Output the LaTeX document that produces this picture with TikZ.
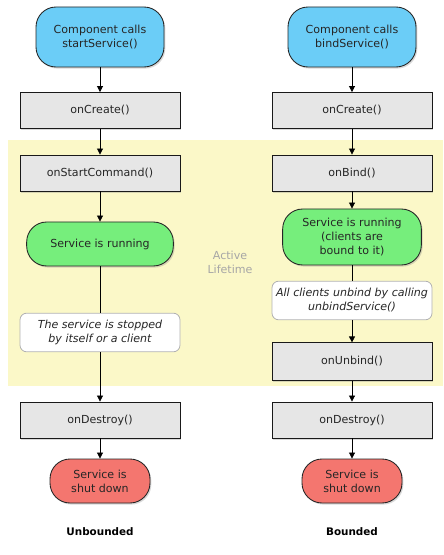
\documentclass[tikz,border=0pt]{standalone}
\usepackage{fontspec}
\setmainfont{DejaVu Sans}[ItalicFont={DejaVu Sans Oblique},BoldFont={DejaVu Sans Bold}]
\usetikzlibrary{arrows.meta,shadows}
\definecolor{callblue}{HTML}{6BCDF7}
\definecolor{rungreen}{HTML}{76EE7C}
\definecolor{downred}{HTML}{F4766F}
\definecolor{hookgray}{HTML}{E6E6E6}
\definecolor{lifeyellow}{HTML}{FBF8C8}
\tikzset{
  every node/.style={font=\fontsize{8.3}{10.5}\selectfont, text=black!85},
  softshadow/.style={drop shadow={opacity=0.3, shadow xshift=1pt, shadow yshift=-1.2pt}},
  pill/.style={draw=black!85, line width=0.65pt, rounded corners=15pt, align=center, inner sep=0pt, softshadow},
  hook/.style={draw=black!90, line width=0.65pt, fill=hookgray, minimum width=120pt, minimum height=27pt, inner sep=0pt, softshadow},
  note/.style={draw=black!30, line width=0.6pt, fill=white, rounded corners=5pt, minimum width=120pt, minimum height=29pt, inner sep=0pt, align=center, font=\fontsize{8.3}{10.5}\selectfont\itshape},
  flow/.style={-{Triangle[length=4.5pt,width=4.5pt]}, line width=0.6pt},
}
\begin{document}
\begin{tikzpicture}[x=0.75pt, y=-0.75pt]
  \useasboundingbox (0,0) rectangle (443,555);
  % Active lifetime band
  \fill[lifeyellow] (8,140) rectangle (443,386);
  \node[text=black!35, align=center] (life) at (230,262) {Active\\Lifetime};
  % Started service
  \node[pill, fill=callblue, minimum width=96pt, minimum height=45pt] (lstart) at (100,37) {Component calls\\startService()};
  \node[hook] (lcreate) at (100,110.5) {onCreate()};
  \node[hook] (lcommand) at (100,173) {onStartCommand()};
  \node[pill, fill=rungreen, minimum width=110pt, minimum height=33pt] (lrun) at (100,244) {Service is running};
  \node[note] (lstop) at (100,332.5) {The service is stopped\\by itself or a client};
  \node[hook] (ldestroy) at (100,420) {onDestroy()};
  \node[pill, fill=downred, minimum width=75pt, minimum height=33pt] (ldown) at (100,481) {Service is\\shut down};
  \node[font=\fontsize{7.8}{9}\selectfont\bfseries, text=black] (lname) at (100,532) {Unbounded};
  \draw[flow] (lstart) -- (lcreate);
  \draw[flow] (lcreate) -- (lcommand);
  \draw[flow] (lcommand) -- (lrun);
  \draw[line width=0.6pt] (lrun) -- (lstop);
  \draw[flow] (lstop) -- (ldestroy);
  \draw[flow] (ldestroy) -- (ldown);
  % Bound service
  \node[pill, fill=callblue, minimum width=96pt, minimum height=45pt] (rstart) at (352,37) {Component calls\\bindService()};
  \node[hook] (rcreate) at (352,110.5) {onCreate()};
  \node[hook] (rbind) at (352,173) {onBind()};
  \node[pill, fill=rungreen, minimum width=104pt, minimum height=42pt] (rrun) at (352,237) {Service is running\\(clients are\\bound to it)};
  \node[note] (runbindall) at (352,300.5) {All clients unbind by calling\\unbindService()};
  \node[hook, minimum height=28pt] (runbind) at (352,361.5) {onUnbind()};
  \node[hook] (rdestroy) at (352,420) {onDestroy()};
  \node[pill, fill=downred, minimum width=75pt, minimum height=33pt] (rdown) at (352,481) {Service is\\shut down};
  \node[font=\fontsize{7.8}{9}\selectfont\bfseries, text=black] (rname) at (352,532) {Bounded};
  \draw[flow] (rstart) -- (rcreate);
  \draw[flow] (rcreate) -- (rbind);
  \draw[flow] (rbind) -- (rrun);
  \draw[line width=0.6pt] (rrun) -- (runbindall);
  \draw[flow] (runbindall) -- (runbind);
  \draw[flow] (runbind) -- (rdestroy);
  \draw[flow] (rdestroy) -- (rdown);
\end{tikzpicture}
\end{document}
